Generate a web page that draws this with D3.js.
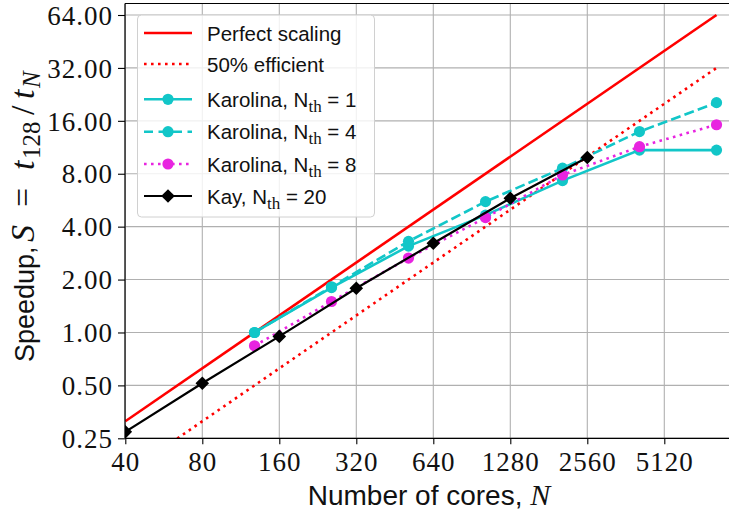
<!DOCTYPE html>
<html><head><meta charset="utf-8">
<script src="https://cdn.jsdelivr.net/npm/d3@7"></script>
<style>body{margin:0;background:#fff} svg{display:block}</style>
</head><body><svg id="chart" width="729" height="516"></svg>
<script>
// Strong-scaling speedup relative to the 128-core run
const karolinaCores = [128, 256, 512, 1024, 2048, 4096, 8192];
const karolinaNth1 = [1.0, 1.80, 3.10, 4.65, 7.31, 10.9, 10.9];
const karolinaNth4 = [1.0, 1.82, 3.30, 5.55, 8.60, 13.9, 20.3];
const karolinaNth8 = [0.84, 1.50, 2.65, 4.50, 7.87, 11.4, 15.2];
const kayCores = [40, 80, 160, 320, 640, 1280, 2560];
const kayNth20 = [0.272, 0.514, 0.95, 1.785, 3.22, 5.80, 9.9];
const idealCores = [40, 8192];
const perfectSpeedup = [0.3125, 64];
const halfSpeedup = [0.15625, 32];
const xTicks = [40, 80, 160, 320, 640, 1280, 2560, 5120];
const yTicks = [0.25, 0.5, 1, 2, 4, 8, 16, 32, 64];

const svg = d3.select("#chart");
const plot = {left: 125, top: 3.5, bottom: 438.3, right: 735};

const x = d3.scaleLog().base(2).domain([40, 5120]).range([125.3, 664.3]);
const y = d3.scaleLog().base(2).domain([0.25, 64]).range([438.3, 15]);

const CYAN = "#12c6c8", MAGENTA = "#e824e0", RED = "#ff0000";
const serif = "'Liberation Serif', 'DejaVu Serif', serif";
const sans = "'Liberation Sans', Arial, sans-serif";

svg.append("defs").append("clipPath").attr("id", "plotClip")
  .append("rect").attr("x", plot.left).attr("y", plot.top)
  .attr("width", plot.right - plot.left).attr("height", plot.bottom - plot.top);

// grid
const grid = svg.append("g").attr("stroke", "#b0b0b0").attr("stroke-width", 1.1);
grid.selectAll(".gx").data(xTicks).join("line")
  .attr("x1", d => x(d)).attr("x2", d => x(d)).attr("y1", plot.top).attr("y2", plot.bottom);
grid.selectAll(".gy").data(yTicks).join("line")
  .attr("y1", d => y(d)).attr("y2", d => y(d)).attr("x1", plot.left).attr("x2", plot.right);

// axes
const xAxis = svg.append("g").attr("transform", `translate(0,${plot.bottom})`)
  .call(d3.axisBottom(x).tickValues(xTicks).tickFormat(d3.format("d")).tickSize(6).tickPadding(4));
const yAxis = svg.append("g").attr("transform", `translate(${plot.left},0)`)
  .call(d3.axisLeft(y).tickValues(yTicks).tickFormat(d3.format(".2f")).tickSize(7).tickPadding(5));
[xAxis, yAxis].forEach(a => {
  a.select(".domain").remove();
  a.selectAll(".tick line").attr("stroke", "#000").attr("stroke-width", 1.1);
  a.selectAll(".tick text").attr("fill", "#111").style("font-family", serif)
    .style("font-size", "27px").style("letter-spacing", "1px");
});
xAxis.selectAll(".tick text").attr("dy", "0.85em");
yAxis.selectAll(".tick text").attr("dy", "0.34em");

// series
const body = svg.append("g").attr("clip-path", "url(#plotClip)");
const line = d3.line().x(d => x(d[0])).y(d => y(d[1]));
function pairs(xs, ys) { return xs.map((v, i) => [v, ys[i]]); }

const series = [
  {xs: idealCores, ys: perfectSpeedup, color: RED, dash: null, width: 2.6, marker: null},
  {xs: idealCores, ys: halfSpeedup, color: RED, dash: "2.6,4.4", width: 2.6, marker: null},
  {xs: karolinaCores, ys: karolinaNth1, color: CYAN, dash: null, width: 2.6, marker: "circle"},
  {xs: karolinaCores, ys: karolinaNth4, color: CYAN, dash: "10,4.2", width: 2.6, marker: "circle"},
  {xs: karolinaCores, ys: karolinaNth8, color: MAGENTA, dash: "2.6,4.4", width: 2.6, marker: "circle"},
  {xs: kayCores, ys: kayNth20, color: "#000", dash: null, width: 2.2, marker: "diamond"}
];
const diamond = "M0,-6.8L6.8,0L0,6.8L-6.8,0Z";

function drawMarker(g, kind, color) {
  if (kind === "circle") g.append("circle").attr("r", 5.6).attr("fill", color);
  else if (kind === "diamond") g.append("path").attr("d", diamond).attr("fill", color);
}

series.forEach(s => {
  const pts = pairs(s.xs, s.ys);
  body.append("path").datum(pts).attr("d", line).attr("fill", "none")
    .attr("stroke", s.color).attr("stroke-width", s.width)
    .attr("stroke-dasharray", s.dash).attr("stroke-linecap", "butt");
  if (s.marker) {
    pts.forEach(p => {
      const g = body.append("g").attr("transform", `translate(${x(p[0])},${y(p[1])})`);
      drawMarker(g, s.marker, s.color);
    });
  }
});

// frame
const frame = svg.append("g").attr("stroke", "#000").attr("stroke-width", 1.2);
frame.append("line").attr("x1", plot.left).attr("x2", plot.left).attr("y1", plot.top).attr("y2", plot.bottom);
frame.append("line").attr("x1", plot.left).attr("x2", plot.right).attr("y1", plot.bottom).attr("y2", plot.bottom);
frame.append("line").attr("x1", plot.left).attr("x2", plot.right).attr("y1", plot.top).attr("y2", plot.top);

// legend
const legend = svg.append("g");
legend.append("rect").attr("x", 137.5).attr("y", 15).attr("width", 237).attr("height", 202)
  .attr("rx", 4).attr("fill", "#fff").attr("fill-opacity", 0.82)
  .attr("stroke", "#d0d0d0").attr("stroke-width", 1);
const entries = [
  {s: series[0], label: "Perfect scaling", cy: 33},
  {s: series[1], label: "50% efficient", cy: 64},
  {s: series[2], label: "Karolina, N", sub: "th", tail: " = 1", cy: 99.3},
  {s: series[3], label: "Karolina, N", sub: "th", tail: " = 4", cy: 131.7},
  {s: series[4], label: "Karolina, N", sub: "th", tail: " = 8", cy: 164},
  {s: series[5], label: "Kay, N", sub: "th", tail: " = 20", cy: 196}
];
entries.forEach(e => {
  legend.append("line").attr("x1", 144).attr("x2", 192).attr("y1", e.cy).attr("y2", e.cy)
    .attr("stroke", e.s.color).attr("stroke-width", e.s.width)
    .attr("stroke-dasharray", e.s.dash === "10,4.2" ? "9,5.5" : e.s.dash);
  if (e.s.marker) drawMarker(legend.append("g").attr("transform", `translate(168,${e.cy})`), e.s.marker, e.s.color);
  const t = legend.append("text").attr("x", 207).attr("y", e.cy + 7.5)
    .attr("fill", "#111").style("font-family", sans).style("font-size", "20.5px").text(e.label);
  if (e.sub) {
    t.append("tspan").attr("dy", 5).style("font-family", serif).style("font-size", "17px").text(e.sub);
    t.append("tspan").attr("dy", -5).text(e.tail);
  }
});

// axis titles
const xt = svg.append("text").attr("x", 429).attr("y", 505).attr("text-anchor", "middle")
  .attr("fill", "#111").style("font-family", sans).style("font-size", "28px").text("Number of cores, ");
xt.append("tspan").style("font-family", serif).style("font-style", "italic").style("font-size", "30px").text("N");

// y title: plain words, then the ratio in math type, laid along the rotated axis
const yTitle = svg.append("g").attr("transform", "translate(34,0) rotate(-90)").attr("fill", "#111");
yTitle.append("text").attr("x", -362).attr("y", 0)
  .style("font-family", sans).style("font-size", "27px").text("Speedup,");
const ym = yTitle.append("text").attr("y", 0)
  .style("font-family", serif).style("font-size", "34px");
const mathParts = [
  {t: "S", at: 242, italic: true},
  {t: "=", at: 207},
  {t: "t", at: 170, italic: true},
  {t: "128", at: 159, sub: true},
  {t: "/", at: 115},
  {t: "t", at: 99, italic: true},
  {t: "N", at: 88, sub: true, italic: true}
];
mathParts.forEach(p => {
  ym.append("tspan").attr("x", -p.at).attr("y", p.sub ? 6 : 0)
    .style("font-style", p.italic ? "italic" : "normal")
    .style("font-size", p.sub ? "25px" : "34px").text(p.t);
});
</script></body></html>
